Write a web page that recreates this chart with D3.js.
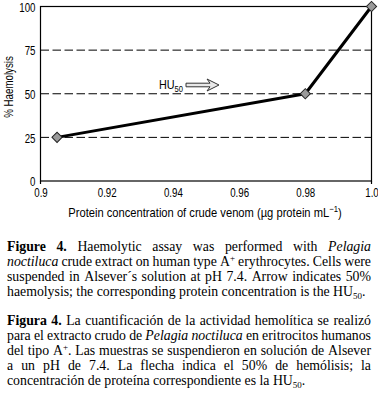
<!DOCTYPE html>
<html><head><meta charset="utf-8">
<script src="https://cdn.jsdelivr.net/npm/d3@7"></script>
<style>
html,body{margin:0;padding:0;background:#fff;}
svg{display:block;}
.ax{font-family:"Liberation Sans",Arial,sans-serif;}
.cap{font-family:"Liberation Serif","Times New Roman",serif;}
</style></head>
<body>
<svg id="c" width="378" height="399"></svg>
<script>
const concentration = [0.905, 0.98, 1.0];
const haemolysis = [25, 50, 100];
const xTicks = [0.9, 0.92, 0.94, 0.96, 0.98, 1.0];
const xTickLabels = ["0.9", "0.92", "0.94", "0.96", "0.98", "1.0"];
const yTicks = [0, 25, 50, 75, 100];
const gridValues = [25, 50, 75];
const captionEn = [
  "<b>Figure</b> <b>4.</b> Haemolytic assay was performed with <i>Pelagia</i>",
  "<i>noctiluca</i> crude extract on human type A<sup>+</sup> erythrocytes. Cells were",
  "suspended in Alsever´s solution at pH 7.4. Arrow indicates 50%",
  "haemolysis; the corresponding protein concentration is the HU<sub>50</sub>."
];
const captionEs = [
  "<b>Figura</b> <b>4.</b> La cuantificación de la actividad hemolítica se realizó",
  "para el extracto crudo de <i>Pelagia</i> <i>noctiluca</i> en eritrocitos humanos",
  "del tipo A<sup>+</sup>. Las muestras se suspendieron en solución de Alsever",
  "a un pH de 7.4. La flecha indica el 50% de hemólisis; la",
  "concentración de proteína correspondiente es la HU<sub>50</sub>."
];

const svg = d3.select("#c");
const L = 40.5, R = 371.5, T = 6.5, B = 181;
const x = d3.scaleLinear().domain([0.9, 1.0]).range([L, R]);
const y = d3.scaleLinear().domain([0, 100]).range([B, T]);
const SX = 0.72, FS = 13.5;

const g = svg.append("g").attr("class", "ax");

// gridlines
g.selectAll("line.grid").data(gridValues).join("line")
  .attr("x1", L).attr("x2", R)
  .attr("y1", d => y(d)).attr("y2", d => y(d))
  .attr("stroke", "#000").attr("stroke-width", 1)
  .attr("stroke-dasharray", "8.5,3.5");

// frame
g.append("rect").attr("x", L).attr("y", T).attr("width", R - L).attr("height", B - T)
  .attr("fill", "none").attr("stroke", "#000").attr("stroke-width", 1.2);
[0.9, 1.0].forEach(v => {
  g.append("line").attr("x1", x(v)).attr("x2", x(v)).attr("y1", B).attr("y2", B + 3)
    .attr("stroke", "#000").attr("stroke-width", 1.2);
});

// axes (tick labels only)
const xAxis = d3.axisBottom(x).tickValues(xTicks).tickFormat((d, i) => xTickLabels[i]).tickSize(0).tickPadding(0);
const xa = g.append("g").attr("transform", `translate(0,${B})`).call(xAxis);
xa.select(".domain").remove();
xa.selectAll("text").attr("font-size", FS).attr("font-family", null).attr("fill", "#000")
  .attr("dy", null).attr("y", 16.5).attr("transform", `scale(${SX},1)`);

const yAxis = d3.axisLeft(y).tickValues(yTicks).tickSize(0).tickPadding(0);
const ya = g.append("g").attr("transform", `translate(${L},0)`).call(yAxis);
ya.select(".domain").remove();
ya.selectAll("text").attr("font-size", FS).attr("font-family", null).attr("fill", "#000")
  .attr("x", -5 / SX).attr("dy", "0.35em").attr("transform", `scale(${SX},1)`);

// axis titles
g.append("text").attr("transform", "translate(205,217) scale(0.86,1)").attr("text-anchor", "middle")
  .attr("font-size", 13)
  .html('Protein concentration of crude venom (µg protein mL<tspan dy="-5" font-size="9">−1</tspan><tspan dy="5">)</tspan>');
g.append("text").attr("transform", `translate(13,87) rotate(-90) scale(${SX},1)`)
  .attr("text-anchor", "middle").attr("font-size", FS).text("% Haemolysis");

// line
const line = d3.line().x(d => x(d[0])).y(d => y(d[1]));
const pts = concentration.map((c, i) => [c, haemolysis[i]]);
g.append("path").datum(pts).attr("d", line).attr("fill", "none")
  .attr("stroke", "#000").attr("stroke-width", 3).attr("stroke-linejoin", "round");
g.selectAll("path.pt").data(pts).join("path")
  .attr("d", d3.symbol().type(d3.symbolSquare).size(52))
  .attr("transform", d => `translate(${x(d[0])},${y(d[1])}) rotate(45)`)
  .attr("fill", "#9a9a9a").attr("stroke", "#222").attr("stroke-width", 1);

// HU50 annotation
g.append("text").attr("transform", "translate(159,89) scale(0.8,1)").attr("font-size", FS)
  .html('HU<tspan dy="3" font-size="9.5">50</tspan>');
const ax0 = 186, ay = 85;
g.append("path")
  .attr("d", `M${ax0},${ay - 1.8} L${ax0 + 24},${ay - 1.8} L${ax0 + 21},${ay - 6} L${ax0 + 33},${ay} L${ax0 + 21},${ay + 6} L${ax0 + 24},${ay + 1.8} L${ax0},${ay + 1.8} Z`)
  .attr("fill", "#e8e8e8").attr("stroke", "#333").attr("stroke-width", 1);

// caption with justification
const cap = svg.append("g").attr("class", "cap");
function parseWord(w) {
  const runs = [];
  let state = {b: false, i: false, sup: false, sub: false};
  const re = /<(\/?)(b|i|sup|sub)>/g;
  let last = 0, m;
  while ((m = re.exec(w)) !== null) {
    if (m.index > last) runs.push({t: w.slice(last, m.index), ...state});
    state = {...state, [m[2]]: m[1] !== "/"};
    last = re.lastIndex;
  }
  if (last < w.length) runs.push({t: w.slice(last), ...state});
  return runs;
}
function drawPara(lines, y0, lh, fs, left, right) {
  lines.forEach((ln, li) => {
    const words = ln.split(" ");
    const els = words.map(w => {
      const t = cap.append("text").attr("y", y0 + li * lh).attr("font-size", fs);
      let shift = 0;
      parseWord(w).forEach(r => {
        const ts = t.append("tspan").text(r.t);
        if (r.b) ts.attr("font-weight", "bold");
        if (r.i) ts.attr("font-style", "italic");
        let target = r.sup ? -5 : r.sub ? 3 : 0;
        if (r.sup || r.sub) ts.attr("font-size", fs * 0.65);
        if (target !== shift) { ts.attr("dy", target - shift); shift = target; }
      });
      return t;
    });
    const widths = els.map(e => e.node().getComputedTextLength());
    const total = d3.sum(widths);
    const isLast = li === lines.length - 1;
    const gap = isLast ? fs * 0.25 : (right - left - total) / (words.length - 1);
    let cx = left;
    els.forEach((e, i) => { e.attr("x", cx); cx += widths[i] + gap; });
  });
}
drawPara(captionEn, 251, 15, 13.8, 7, 371);
drawPara(captionEs, 325, 15, 13.8, 7, 371);
</script>
</body></html>
